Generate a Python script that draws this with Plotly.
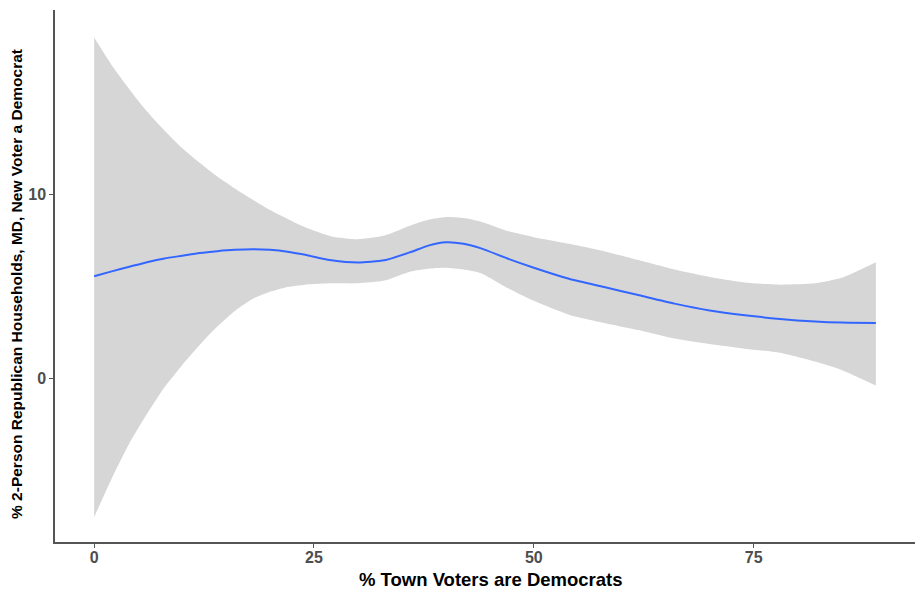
import plotly.graph_objects as go

# data (loess fit with 95% CI)
x_vals = [0, 2, 4, 6, 8, 10, 12, 14, 16, 18, 20, 22, 24, 27, 30, 33, 36, 38, 40, 42, 44, 47,
          50, 54, 58, 62, 66, 70, 74, 78, 82, 85, 88.9]
fit = [5.54, 5.8, 6.05, 6.3, 6.5, 6.65, 6.8, 6.9, 6.97, 7.0, 6.97, 6.87, 6.7, 6.4, 6.28, 6.4,
       6.85, 7.2, 7.38, 7.3, 7.05, 6.5, 6.0, 5.4, 4.95, 4.5, 4.05, 3.68, 3.42, 3.22, 3.08, 3.02, 3.0]
upper = [18.5, 17.0, 15.7, 14.5, 13.45, 12.5, 11.7, 10.95, 10.3, 9.7, 9.13, 8.65, 8.2, 7.7,
         7.55, 7.75, 8.3, 8.6, 8.75, 8.7, 8.5, 8.0, 7.66, 7.3, 6.9, 6.4, 5.9, 5.5, 5.2, 5.08,
         5.15, 5.45, 6.3]
lower = [-7.55, -5.45, -3.55, -1.95, -0.5, 0.7, 1.8, 2.8, 3.65, 4.3, 4.69, 4.95, 5.08, 5.15, 5.15,
         5.3, 5.8, 5.95, 6.0, 5.9, 5.7, 4.9, 4.2, 3.45, 3.0, 2.6, 2.15, 1.85, 1.6, 1.38, 0.9,
         0.45, -0.4]

x_ticks = [0, 25, 50, 75]
y_ticks = [0, 10]
x_title = "% Town Voters are Democrats"
y_title = "% 2-Person Republican Households, MD, New Voter a Democrat"

fig = go.Figure()
fig.add_trace(go.Scatter(x=x_vals, y=lower, mode="lines", line=dict(width=0, shape="spline", smoothing=0.6),
                         hoverinfo="skip", showlegend=False))
fig.add_trace(go.Scatter(x=x_vals, y=upper, mode="lines", line=dict(width=0, shape="spline", smoothing=0.6),
                         fill="tonexty", fillcolor="#D6D6D6", hoverinfo="skip", showlegend=False))
fig.add_trace(go.Scatter(x=x_vals, y=fit, mode="lines",
                         line=dict(color="#3366FF", width=2, shape="spline", smoothing=0.6),
                         showlegend=False))

font_family = "Liberation Sans, Arial, sans-serif"
tick_font = dict(size=16, color="#4D4D4D", family=font_family, weight="bold")
fig.update_layout(
    width=917, height=591,
    margin=dict(l=55, r=2, t=10, b=49, autoexpand=False),
    paper_bgcolor="white", plot_bgcolor="white",
    font=dict(family=font_family),
    xaxis=dict(
        range=[-4.45, 93.35], tickvals=x_ticks, showgrid=False, zeroline=False,
        showline=True, linecolor="#555555", linewidth=1.5, automargin=False,
        ticks="outside", ticklen=4, tickcolor="#555555", tickwidth=1,
        tickfont=tick_font, ticklabelstandoff=-4,
    ),
    yaxis=dict(
        range=[-8.9, 20.0], tickvals=y_ticks, showgrid=False, zeroline=False,
        showline=True, linecolor="#555555", linewidth=1.5, automargin=False,
        ticks="outside", ticklen=4, tickcolor="#555555", tickwidth=1,
        tickfont=tick_font,
    ),
    annotations=[
        dict(text="<b>" + x_title + "</b>", xref="paper", yref="paper", x=0.507, y=0,
             xanchor="center", yanchor="middle", yshift=-37, showarrow=False,
             font=dict(size=18.5, color="black", family=font_family)),
        dict(text="<b>" + y_title + "</b>", xref="paper", yref="paper", x=0, y=0.485,
             xanchor="center", yanchor="middle", xshift=-38, textangle=-90, showarrow=False,
             font=dict(size=15.5, color="black", family=font_family)),
    ],
)

fig.write_html("out.html", config={"displayModeBar": False},
               post_script="document.body.style.margin='0';")
